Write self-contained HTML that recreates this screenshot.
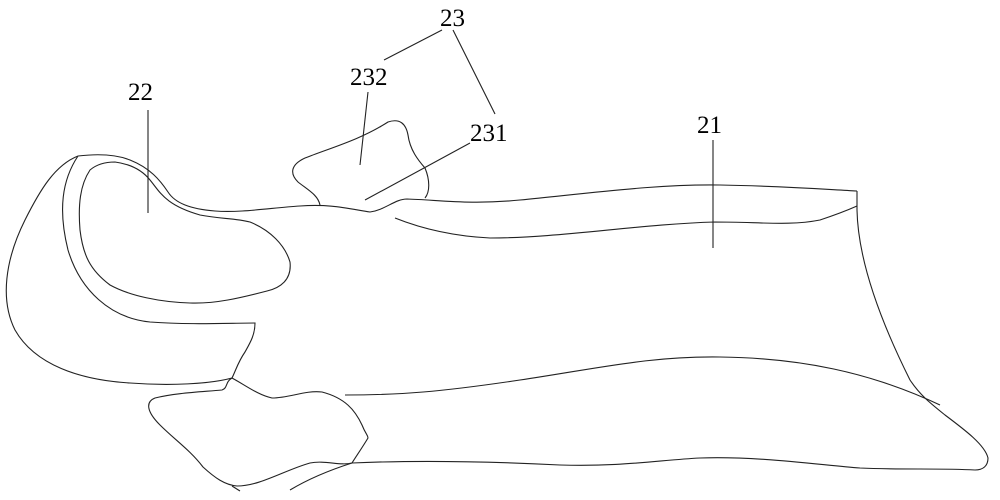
<!DOCTYPE html>
<html><head><meta charset="utf-8"><style>
html,body{margin:0;padding:0;background:#fff;width:1000px;height:500px;overflow:hidden}
svg{display:block}
text{font-family:"Liberation Serif",serif;font-size:25px;fill:#000}
</style></head><body>
<svg width="1000" height="500" viewBox="0 0 1000 500" xmlns="http://www.w3.org/2000/svg">
<g fill="none" stroke="#222" stroke-width="1.1">
<!-- outer left shell -->
<path d="M78,156 C55,165 40,190 25,220 C5,260 0,300 15,330 C35,365 80,380 130,383 C170,386 210,384 232,378"/>
<path d="M78,156 C62,180 58,210 68,250 C80,290 110,318 150,322 C190,325 230,323 255,323 C255,335 250,343 245,352 C238,362 236,370 232,378"/>
<!-- top band -->
<path d="M78,156 C95,154 115,154 130,160 C150,168 160,180 168,192 C175,203 190,209 215,211 C240,213 270,208 300,206 C330,204 345,208 370,212 C385,210 395,199 407,199 C440,200 470,205 520,200 C600,192 660,184 720,185 C780,186 820,189 857,191"/>
<path d="M395,218 C420,228 450,236 490,238 C560,238 640,224 715,222 C760,222 790,226 820,220 C835,215 848,210 857,206"/>
<!-- right edge -->
<path d="M857,191 L857,210 C858,260 880,320 910,380 C920,395 930,403 945,415 C965,430 985,445 988,458 C988,466 983,470 975,470"/>
<!-- middle lower line -->
<path d="M345,395 C400,395 440,392 520,380 C600,368 650,356 720,357 C800,358 870,372 940,405"/>
<!-- bottom line -->
<path d="M352,463 C420,460 500,462 560,465 C620,467 660,460 700,458 C760,456 820,465 860,468 C900,470 940,468 975,470"/>
<!-- inner 22 -->
<path d="M115,162 C130,164 142,170 150,180 C160,192 165,205 200,215 C220,219 235,218 250,222 C270,230 285,245 290,262 C292,280 280,288 267,291 C240,298 215,304 190,303 C160,302 130,296 110,285 C90,270 83,255 80,230 C78,205 80,185 90,170 C97,164 105,162 115,162 Z"/>
<!-- 232 tooth -->
<path d="M320,205 C318,195 308,190 298,182 C290,174 290,165 305,158 C330,148 360,140 388,122 C400,118 406,124 408,135 C410,150 418,160 425,168 C430,180 430,192 425,198"/>
<!-- bottom left foot -->
<path d="M232,378 C225,382 228,388 222,390 C200,392 175,393 155,398 C145,402 147,412 160,425 C175,440 190,450 203,467 C215,478 225,485 237,486 C260,486 285,470 310,463 C325,460 340,466 352,463"/>
<path d="M232,378 C245,385 258,395 272,398 C290,398 305,390 322,392 C345,398 355,410 362,425 C366,435 368,435 368,438 C362,448 355,458 352,463 C330,470 310,478 290,490"/>
<path d="M232,486 L240,491"/>
<!-- leaders -->
<path d="M148,110 L148,213"/>
<path d="M368,92 L360,165"/>
<path d="M470,143 L365,200"/>
<path d="M713,140 L713,248"/>
<path d="M442,30 L384,60"/>
<path d="M453,30 L495,114"/>
</g>
<text x="440" y="26">23</text>
<text x="350" y="85">232</text>
<text x="128" y="100">22</text>
<text x="470" y="141">231</text>
<text x="697" y="133">21</text>
</svg>
</body></html>
